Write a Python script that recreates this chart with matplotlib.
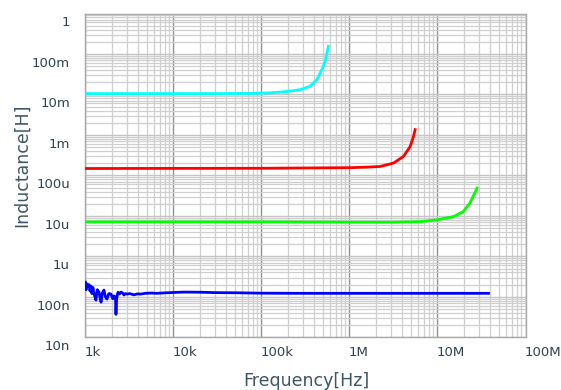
import matplotlib
matplotlib.use("Agg")
import matplotlib.pyplot as plt
from matplotlib.ticker import LogLocator, FixedLocator, NullFormatter
from matplotlib.transforms import ScaledTranslation

# ---- data ----
cyan_f = [1e3, 3e4, 7.5e4, 1.2e5, 1.62e5, 2.2e5, 2.75e5, 3.57e5, 4.27e5, 4.86e5, 5.3e5, 5.77e5]
cyan_L = [10.5e-3, 10.5e-3, 10.6e-3, 10.9e-3, 11.4e-3, 12.2e-3, 13.1e-3, 15.9e-3, 23.2e-3, 41e-3, 66e-3, 155e-3]

red_f = [1e3, 1e5, 1e6, 1.6e6, 2.23e6, 3.16e6, 4.11e6, 4.9e6, 5.34e6, 5.58e6]
red_L = [148e-6, 150e-6, 155e-6, 160e-6, 166e-6, 201e-6, 294e-6, 519e-6, 918e-6, 1.35e-3]

green_f = [1e3, 1e5, 1e6, 3e6, 6.36e6, 9.83e6, 1.52e7, 1.97e7, 2.33e7, 2.65e7, 2.82e7]
green_L = [7.1e-6, 7.1e-6, 7.0e-6, 6.95e-6, 7.2e-6, 7.96e-6, 9.6e-6, 12.8e-6, 20.6e-6, 36.5e-6, 48.5e-6]

blue_f = [1.0e3, 1.02e3, 1.04e3, 1.07e3, 1.10e3, 1.13e3, 1.16e3, 1.19e3, 1.22e3, 1.27e3,
          1.32e3, 1.37e3, 1.43e3, 1.47e3, 1.51e3, 1.56e3, 1.63e3, 1.69e3, 1.76e3, 1.85e3,
          1.96e3, 2.05e3, 2.12e3, 2.2e3, 2.23e3, 2.27e3, 2.35e3, 2.45e3, 2.54e3, 2.65e3,
          2.75e3, 2.85e3, 2.97e3, 3.2e3, 3.57e3, 3.9e3, 4.29e3, 4.8e3, 5.58e3, 6.5e3,
          7.85e3, 1e4, 1.32e4, 2e4, 3e4, 5e4, 1e5, 3e5, 1e6, 1e7, 3.8e7]
blue_L = [230e-9, 150e-9, 210e-9, 180e-9, 200e-9, 140e-9, 185e-9, 120e-9, 170e-9, 110e-9,
          83e-9, 150e-9, 130e-9, 95e-9, 74e-9, 125e-9, 147e-9, 100e-9, 88e-9, 120e-9,
          117e-9, 90e-9, 105e-9, 99e-9, 37e-9, 90e-9, 130e-9, 118e-9, 131e-9, 125e-9,
          111e-9, 120e-9, 117e-9, 120e-9, 112e-9, 118e-9, 117e-9, 122e-9, 124e-9, 122e-9,
          125e-9, 128e-9, 131e-9, 130e-9, 127e-9, 126e-9, 123e-9, 122e-9, 122e-9, 122e-9, 122e-9]

x_ticks = [1e3, 1e4, 1e5, 1e6, 1e7, 1e8]
x_labels = ["1k", "10k", "100k", "1M", "10M", "100M"]
y_ticks = [1e-8, 1e-7, 1e-6, 1e-5, 1e-4, 1e-3, 1e-2, 1e-1, 1]
y_labels = ["10n", "100n", "1u", "10u", "100u", "1m", "10m", "100m", "1"]

# ---- figure ----
fig = plt.figure(figsize=(5.61, 3.90), dpi=100)
ax = fig.add_axes([85.3 / 561, 1 - 337.3 / 390, (525.5 - 85.3) / 561, (337.3 - 13.5) / 390])
ax.set_xscale("log")
ax.set_yscale("log")
ax.set_xlim(1e3, 1e8)
ax.set_ylim(1e-8, 1)

lw = 2.0
ax.plot(cyan_f, cyan_L, color="#00ffff", lw=lw, zorder=3)
ax.plot(red_f, red_L, color="#ff0000", lw=lw, zorder=3)
ax.plot(green_f, green_L, color="#00ff00", lw=lw, zorder=3)
ax.plot(blue_f, blue_L, color="#0000ff", lw=lw, zorder=3)

ax.xaxis.set_major_locator(FixedLocator(x_ticks))
ax.yaxis.set_major_locator(FixedLocator(y_ticks))
ax.xaxis.set_minor_locator(LogLocator(base=10, subs=range(2, 10), numticks=20))
ax.yaxis.set_minor_locator(LogLocator(base=10, subs=range(2, 10), numticks=20))
ax.xaxis.set_minor_formatter(NullFormatter())
ax.yaxis.set_minor_formatter(NullFormatter())
ax.set_xticklabels(x_labels)
ax.set_yticklabels(y_labels)

txtc = "#2e4250"
ax.tick_params(which="both", length=0)
ax.tick_params(axis="x", pad=6, labelsize=9.5, labelcolor=txtc)
ax.tick_params(axis="y", pad=11, labelsize=9.5, labelcolor=txtc)
for lab in ax.get_xticklabels():
    lab.set_horizontalalignment("left")
    lab.set_transform(lab.get_transform() + ScaledTranslation(-1 / 100, 0, fig.dpi_scale_trans))
for lab in ax.get_yticklabels():
    lab.set_transform(lab.get_transform() + ScaledTranslation(0, -8 / 100, fig.dpi_scale_trans))

ax.grid(which="major", axis="x", color="#8f8f8f", lw=1.0, zorder=1)
ax.grid(which="major", axis="y", color="#c4c4c4", lw=1.0, zorder=1)
ax.grid(which="minor", axis="both", color="#cfcfcf", lw=0.9, zorder=1)
ax.set_axisbelow(True)
for s in ax.spines.values():
    s.set_color("#a8a8a8")
    s.set_linewidth(1.0)

labc = "#3b5566"
fig.text(306 / 561, 1 - 381 / 390, "Frequency[Hz]", ha="center", va="center",
         fontsize=12.5, color=labc)
fig.text(22 / 561, 1 - 165 / 390, "Inductance[H]", ha="center", va="center",
         rotation=90, fontsize=12.5, color=labc)

fig.savefig("out.png", dpi=100)
